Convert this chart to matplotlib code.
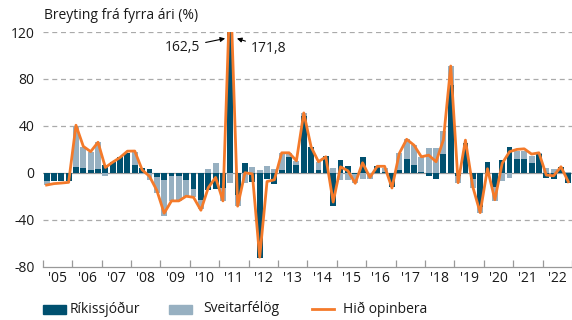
import numpy as np
import matplotlib
matplotlib.use('Agg')
import matplotlib.pyplot as plt
from matplotlib.patches import Rectangle
from matplotlib.lines import Line2D

plt.rcParams['font.family'] = ['Open Sans', 'DejaVu Sans']

# quarterly change from previous year (%), 2005Q1 - 2022Q4
rikissjodur = [-7, -7, -7, -7,
               5, 4, 2, 3,
               7, 9.5, 13.5, 17,
               7, 4, 3, -3.5,
               -6, -3, -3, -6,
               -13.5, -23.5, -15, -13.5,
               -13, 171.8, -19, 8.5,
               -8, -73, -5.5, -9.5,
               2, 13, 6.5, 48,
               22, 2.5, 14, -28,
               11, 5.5, -1, 13.5,
               0, 5.5, 1, -12.5,
               2.5, 12, 6.5, 0.5,
               -2.5, -5.7, 16, 74.6,
               -3, 25.5, -5, -29,
               9, -12, 10.8, 21.6,
               11.3, 11.3, 8.5, 15.9,
               -4.8, -5.7, 5, -8.5]
sveitarfelog = [-3.5, 0, 0, 0,
                35, 18, 16, 23,
                -3, 0, 0, 0,
                11, -1.5, -6, -14,
                -31, -21.5, -21, -14.5,
                -7.5, -7.5, 3, 8,
                -11, -9, -9, -8.5,
                5, 2, 5.5, 2.8,
                15, 4, 3.7, 3,
                0, 7, 0, 3.7,
                -6, -6, -8, -5,
                -5, 0, 3, 0,
                14, 16.5, 17, 13,
                21, 20.7, 19.7, 16.2,
                -6, 0, -7.8, -5,
                -2, -12, -6.8, -4.8,
                7.4, 7.4, 5.7, 1,
                3.7, 2.8, 0, 1]
hid_opinbera = [-10.5, -9.3, -8.8, -8.2,
                40.5, 22.5, 18, 26,
                4.5, 9, 13, 18.4,
                18.5, 2.5, -3, -15,
                -34.5, -24, -24, -20,
                -21, -32, -12.8, -4,
                -24, 162.5, -28.5, 0,
                -1, -72, -7.5, -6,
                17, 17, 10.2, 51,
                22, 9.4, 13.6, -25,
                5, 1.7, -9, 8.5,
                -4, 5.5, 5.5, -13,
                16.5, 28.5, 23.5, 13.6,
                15, 9.4, 28, 91,
                -8.5, 27.8, -12, -34,
                3.4, -23, 8, 17.9,
                19.9, 20.4, 15.9, 17,
                -2, -2.6, 5.1, -7.7]
years = [f"'{y % 100:02d}" for y in range(2005, 2023)]

dark = '#00506f'
light = '#97b0c1'
orange = '#f47a2a'
txt = '#1a1a1a'

r = np.array(rikissjodur)
s = np.array(sveitarfelog)
h = np.array(hid_opinbera)
q = np.arange(len(r))

# stack positives on positives and negatives on negatives
s_bottom = np.where(np.sign(s) == np.sign(r), r, 0)

fig = plt.figure(figsize=(5.72, 3.2), dpi=100)
ax = fig.add_axes([0.075, 0.167, 0.925, 0.733])

ax.bar(q, r, width=0.8, color=dark, zorder=2)
ax.bar(q, s, width=0.8, bottom=s_bottom, color=light, zorder=2)
ax.plot(q, h, color=orange, lw=2.0, zorder=3)

ax.set_xlim(-0.5, len(q) - 0.5)
ax.set_ylim(-80, 120)

for yv in [120, 80, 40, -40]:
    ax.axhline(yv, color='#aaaaaa', lw=0.9, ls=(0, (4, 3)), zorder=1)
ax.axhline(0, color='#999999', lw=0.9, zorder=1.5)

for side in ['top', 'right', 'left']:
    ax.spines[side].set_visible(False)
ax.spines['bottom'].set_color('#999999')
ax.spines['bottom'].set_linewidth(0.9)

ax.set_yticks([-80, -40, 0, 40, 80, 120])
ax.set_yticklabels(['-80', '-40', '0', '40', '80', '120'])
ax.tick_params(axis='y', length=0, pad=6, labelsize=10, labelcolor=txt)

ax.set_xticks(np.arange(-0.5, len(q), 4))
ax.set_xticklabels([])
ax.set_xticks(np.arange(1.5, len(q), 4), minor=True)
ax.set_xticklabels(years, minor=True)
ax.tick_params(axis='x', which='major', direction='in', length=5, color='#999999', width=0.9)
ax.tick_params(axis='x', which='minor', length=0, pad=3, labelsize=10, labelcolor=txt)

ax.text(-0.3, 128, 'Breyting frá fyrra ári (%)', fontsize=10, color=txt, va='bottom')

# out-of-range values for 2011Q2
spike = 25
arrow = dict(arrowstyle='-|>', color='black', lw=0.8, mutation_scale=7, shrinkA=2, shrinkB=0)
ax.annotate(f"{h[spike]:.1f}".replace('.', ','), xy=(spike - 0.7, 114.5), xytext=(20.9, 107),
            fontsize=10, color=txt, ha='right', va='center', arrowprops=arrow)
ax.annotate(f"{r[spike]:.1f}".replace('.', ','), xy=(spike + 0.9, 114.5), xytext=(27.8, 106),
            fontsize=10, color=txt, ha='left', va='center', arrowprops=arrow)

# legend row under the axis
ly = 1 - 309 / 320
fig.patches.append(Rectangle((43 / 572, ly - 4.5 / 320), 23 / 572, 9 / 320,
                             color=dark, transform=fig.transFigure))
fig.text(70 / 572, ly, 'Ríkissjóður', fontsize=10, color=txt, va='center')
fig.patches.append(Rectangle((169 / 572, ly - 4.5 / 320), 23 / 572, 9 / 320,
                             color=light, transform=fig.transFigure))
fig.text(203 / 572, ly, 'Sveitarfélög', fontsize=10, color=txt, va='center')
fig.lines.append(Line2D([312 / 572, 334 / 572], [ly, ly], color=orange, lw=2.0,
                        transform=fig.transFigure))
fig.text(343 / 572, ly, 'Hið opinbera', fontsize=10, color=txt, va='center')

fig.savefig('out.png', dpi=100)
